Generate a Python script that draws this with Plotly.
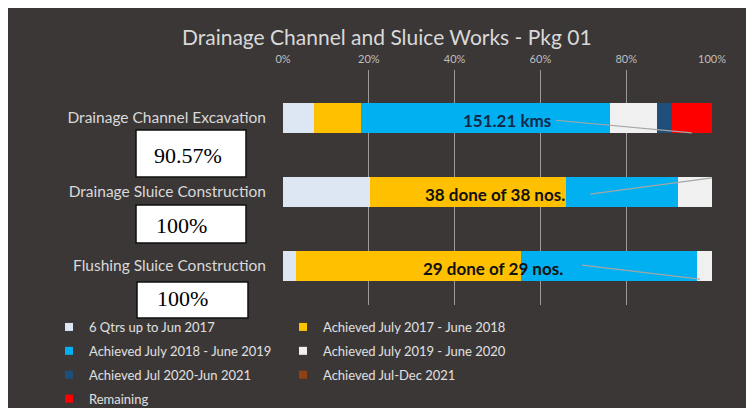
import plotly.graph_objects as go

categories = ["Drainage Channel Excavation", "Drainage Sluice Construction", "Flushing Sluice Construction"]
series_names = ["6 Qtrs up to Jun 2017", "Achieved July 2017 - June 2018", "Achieved July 2018 - June 2019",
                "Achieved July 2019 - June 2020", "Achieved Jul 2020-Jun 2021", "Achieved Jul-Dec 2021", "Remaining"]
series_colors = ["#dde7f4", "#ffc000", "#00b0f0", "#f0f0f0", "#1f4e79", "#8f4310", "#ff0000"]
qtrs_to_2017 = [7.3, 20.3, 3.0]
jul17_jun18 = [10.9, 45.7, 52.5]
jul18_jun19 = [58.0, 26.1, 41.0]
jul19_jun20 = [11.0, 7.9, 3.5]
jul20_jun21 = [3.37, 0.0, 0.0]
jul_dec21 = [0.0, 0.0, 0.0]
remaining = [9.43, 0.0, 0.0]
series_values = [qtrs_to_2017, jul17_jun18, jul18_jun19, jul19_jun20, jul20_jun21, jul_dec21, remaining]
bar_labels = ["151.21 kms", "38 done of 38 nos.", "29 done of 29 nos."]
label_colors = ["#10294a", "#111111", "#111111"]
label_x = [52.2, 49.4, 49.0]
leader_from = [(63.6, 0.03), (71.6, 1.03), (69.7, 1.99)]
leader_to = [(95.3, 0.2), (100.0, 0.81), (97.2, 2.18)]
completion = ["90.57%", "100%", "100%"]
tick_values = [0, 20, 40, 60, 80, 100]
tick_labels = ["0%", "20%", "40%", "60%", "80%", "100%"]
title_text = "Drainage Channel and Sluice Works - Pkg 01"

OFF = 8  # default page margin around the figure
W, H = 754 - OFF, 408 - OFF
# plot area in page pixels
L, R, T, B = 283, 712, 70, 305
BG = "#3b3737"

def px(x):
    return (x - L) / (R - L)

def py(y):
    return (B - y) / (B - T)

fig = go.Figure()
for name, color, vals in zip(series_names, series_colors, series_values):
    fig.add_trace(go.Bar(y=categories, x=vals, orientation="h", name=name,
                         marker=dict(color=color, line=dict(width=0)),
                         width=0.405, showlegend=False, hoverinfo="x+name"))

left_col = [0, 2, 4, 6]
for i, (name, color) in enumerate(zip(series_names, series_colors)):
    fig.add_trace(go.Scatter(x=[None], y=[None], mode="markers", name=name, legendgroup=f"g{i}",
                             marker=dict(symbol="square", size=8, color=color),
                             legend="legend" if i in left_col else "legend2"))

for i, cat in enumerate(categories):
    fig.add_annotation(x=label_x[i], y=i + 0.03, xref="x", yref="y", text=bar_labels[i],
                       xanchor="center", yanchor="middle",
                       showarrow=False, font=dict(family="Lato", size=17, color=label_colors[i], weight="bold"))
    fig.add_shape(type="line", xref="x", yref="y",
                  x0=leader_from[i][0], y0=leader_from[i][1], x1=leader_to[i][0], y1=leader_to[i][1],
                  line=dict(color="#a6a6a6", width=1.2))

boxes = [(136, 246, 130, 177, 188, 155), (136, 246, 205, 243, 181, 225), (137, 248, 282, 318, 182, 298)]
for (x0, x1, y0, y1, tx, ty), txt in zip(boxes, completion):
    fig.add_shape(type="rect", xref="paper", yref="paper", x0=px(x0), x1=px(x1), y0=py(y1), y1=py(y0),
                  fillcolor="white", line=dict(color="#111111", width=1.5), layer="above")
    fig.add_annotation(xref="paper", yref="paper", x=px(tx), y=py(ty), text=txt, showarrow=False,
                       xanchor="center", yanchor="middle",
                       font=dict(family="Liberation Serif", size=22, color="black"))

fig.add_annotation(xref="paper", yref="paper", x=px(387), y=py(37), text=title_text, showarrow=False,
                   xanchor="center", yanchor="middle",
                   font=dict(family="Lato", size=21, color="#d9d9d9"))

legend_font = dict(family="Lato", size=13, color="#e0e0e0")
fig.update_layout(
    width=W, height=H,
    margin=dict(l=L - OFF, r=W - (R - OFF), t=T - OFF, b=H - (B - OFF), pad=0, autoexpand=False),
    paper_bgcolor=BG, plot_bgcolor=BG,
    barmode="stack", bargap=0,
    showlegend=True,
    legend=dict(x=px(49), y=py(312), xanchor="left", yanchor="top", orientation="v", traceorder="grouped",
                font=legend_font, bgcolor="rgba(0,0,0,0)", tracegroupgap=4, itemwidth=30),
    legend2=dict(x=px(283), y=py(312), xanchor="left", yanchor="top", orientation="v", traceorder="grouped",
                 font=legend_font, bgcolor="rgba(0,0,0,0)", tracegroupgap=4, itemwidth=30),
    xaxis=dict(range=[0, 100], side="top", tickmode="array", tickvals=tick_values, ticktext=tick_labels,
               showgrid=True, gridcolor="#9a9a9a", gridwidth=1, zeroline=False, ticklabelstandoff=4,
               tickfont=dict(family="Lato", size=11, color="#bfbfbf"), showline=False, fixedrange=True),
    yaxis=dict(range=[2.53, -0.65], type="category", categoryorder="array", categoryarray=categories,
               tickfont=dict(family="Lato", size=15.5, color="#d9d9d9"), showgrid=False, zeroline=False,
               ticklabelstandoff=16, fixedrange=True),
)

fig.write_html("out.html")
